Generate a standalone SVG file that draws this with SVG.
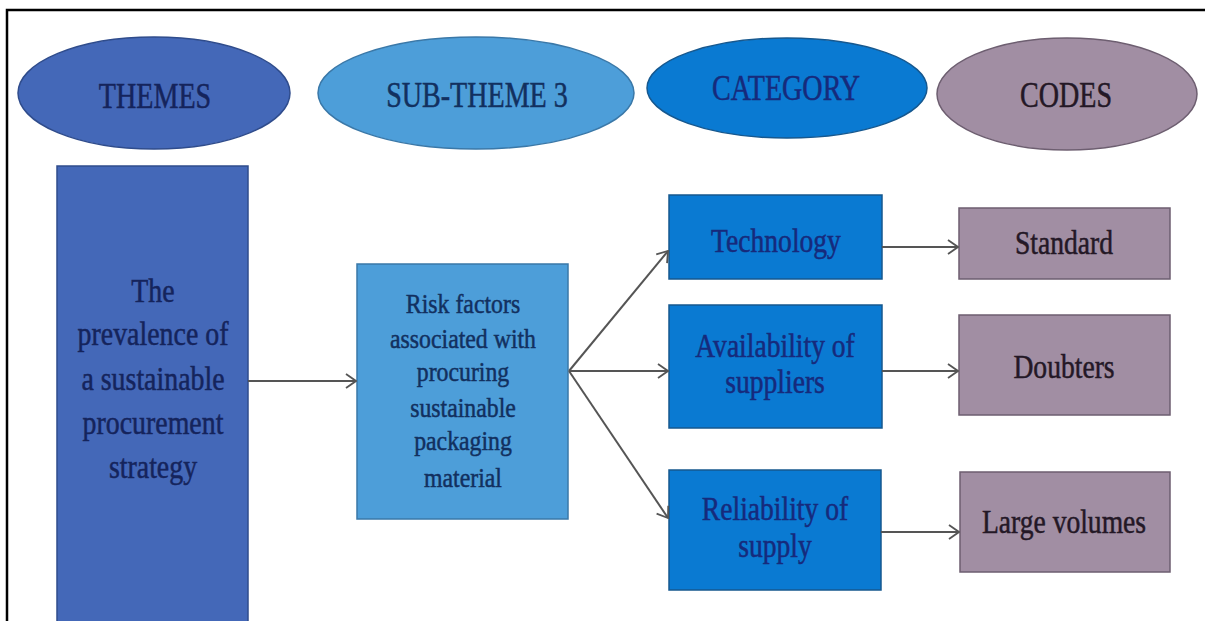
<svg xmlns="http://www.w3.org/2000/svg" width="1205" height="621" viewBox="0 0 1205 621">
<style>
  text { font-family: "Liberation Serif", "Times New Roman", serif; text-anchor: middle; stroke-width: 0.5; }
  .hdr { font-size: 36px; }
  .box { font-size: 33px; }
  .thm { font-size: 34px; }
  .sub { font-size: 28px; }
  .c1 { fill: #4468b8; stroke: #2f4c8c; stroke-width: 1.5; }
  .c2 { fill: #4d9ed9; stroke: #3a78a8; stroke-width: 1.5; }
  .c3 { fill: #0a7ad2; stroke: #16588f; stroke-width: 1.5; }
  .c4 { fill: #a18ea3; stroke: #6d5e70; stroke-width: 1.5; }
  .t1 { fill: #15245c; stroke: #15245c; }
  .t2 { fill: #12305f; stroke: #12305f; }
  .t3 { fill: #162a7c; stroke: #162a7c; }
  .t4 { fill: #241826; stroke: #241826; }
  .conn { stroke: #555; stroke-width: 2; fill: none; marker-end: url(#arr); }
</style>
<defs>
  <marker id="arr" viewBox="0 0 12 16" refX="11" refY="8" markerWidth="12" markerHeight="16" markerUnits="userSpaceOnUse" orient="auto">
    <path d="M1,1 L11,8 L1,15" fill="none" stroke="#555" stroke-width="1.8"/>
  </marker>
</defs>
<rect x="0" y="0" width="1205" height="621" fill="#ffffff"/>
<g id="frame">
  <path d="M7,621 L7,10 L1205,10" fill="none" stroke="#000" stroke-width="2.5"/>
</g>

<g id="hdr-themes">
  <ellipse class="c1" cx="154" cy="93" rx="136" ry="56"/>
  <text class="hdr t1" transform="translate(155,108) scale(0.78,1)">THEMES</text>
</g>
<g id="hdr-subtheme">
  <ellipse class="c2" cx="476" cy="93" rx="158" ry="56"/>
  <text class="hdr t2" transform="translate(477,107) scale(0.78,1)">SUB-THEME 3</text>
</g>
<g id="hdr-category">
  <ellipse class="c3" cx="787" cy="88" rx="140" ry="50"/>
  <text class="hdr t3" transform="translate(786,100) scale(0.78,1)">CATEGORY</text>
</g>
<g id="hdr-codes">
  <ellipse class="c4" cx="1067" cy="94" rx="130" ry="56"/>
  <text class="hdr t4" transform="translate(1066,107) scale(0.78,1)">CODES</text>
</g>

<g id="node-theme">
  <rect class="c1" x="57" y="166" width="191" height="460"/>
  <text class="thm t1" transform="translate(153,302) scale(0.82,1)">The</text>
  <text class="thm t1" transform="translate(153,345) scale(0.82,1)">prevalence of</text>
  <text class="thm t1" transform="translate(153,390) scale(0.82,1)">a sustainable</text>
  <text class="thm t1" transform="translate(153,434) scale(0.82,1)">procurement</text>
  <text class="thm t1" transform="translate(153,478) scale(0.82,1)">strategy</text>
</g>

<g id="node-sub">
  <rect class="c2" x="357" y="264" width="211" height="255"/>
  <text class="sub t2" transform="translate(463,313) scale(0.85,1)">Risk factors</text>
  <text class="sub t2" transform="translate(463,348) scale(0.85,1)">associated with</text>
  <text class="sub t2" transform="translate(463,381) scale(0.85,1)">procuring</text>
  <text class="sub t2" transform="translate(463,417) scale(0.85,1)">sustainable</text>
  <text class="sub t2" transform="translate(463,450) scale(0.85,1)">packaging</text>
  <text class="sub t2" transform="translate(463,487) scale(0.85,1)">material</text>
</g>

<g id="node-technology">
  <rect class="c3" x="669" y="195" width="213" height="84"/>
  <text class="box t3" transform="translate(776,252) scale(0.836,1)">Technology</text>
</g>
<g id="node-availability">
  <rect class="c3" x="669" y="305" width="213" height="123"/>
  <text class="box t3" transform="translate(775,357) scale(0.836,1)">Availability of</text>
  <text class="box t3" transform="translate(775,393) scale(0.836,1)">suppliers</text>
</g>
<g id="node-reliability">
  <rect class="c3" x="669" y="470" width="212" height="120"/>
  <text class="box t3" transform="translate(775,520) scale(0.836,1)">Reliability of</text>
  <text class="box t3" transform="translate(775,557) scale(0.836,1)">supply</text>
</g>

<g id="node-standard">
  <rect class="c4" x="959" y="208" width="211" height="71"/>
  <text class="box t4" transform="translate(1064,254) scale(0.836,1)">Standard</text>
</g>
<g id="node-doubters">
  <rect class="c4" x="959" y="315" width="211" height="100"/>
  <text class="box t4" transform="translate(1064,378) scale(0.836,1)">Doubters</text>
</g>
<g id="node-large">
  <rect class="c4" x="960" y="472" width="210" height="100"/>
  <text class="box t4" transform="translate(1064,533) scale(0.836,1)">Large volumes</text>
</g>

<g id="connectors">
  <line class="conn" x1="248" y1="381" x2="356" y2="381"/>
  <line class="conn" x1="569" y1="371" x2="668" y2="251"/>
  <line class="conn" x1="569" y1="371" x2="668" y2="371"/>
  <line class="conn" x1="569" y1="371" x2="668" y2="518"/>
  <line class="conn" x1="882" y1="247" x2="958" y2="247"/>
  <line class="conn" x1="882" y1="371" x2="958" y2="371"/>
  <line class="conn" x1="881" y1="532" x2="959" y2="532"/>
</g>
</svg>
